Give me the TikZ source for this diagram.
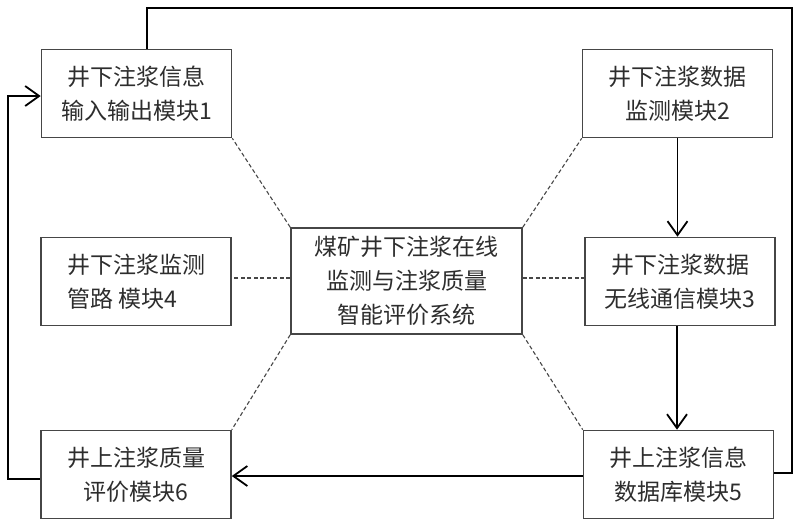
\documentclass[tikz,border=0pt]{standalone}
\usepackage{fontspec}
\setmainfont{Noto Sans CJK SC}
\usetikzlibrary{positioning,arrows.meta,calc}
\definecolor{mdGray}{RGB}{70,70,70}
\definecolor{mdText}{RGB}{45,45,45}

\begin{document}
\begin{tikzpicture}[x=1pt,y=-1pt,
  modbox/.style={draw=mdGray, line width=1.6pt, minimum width=190pt, minimum height=88pt,
    inner sep=0pt, align=center, text=mdText, font=\fontsize{23}{34}\selectfont},
  sysbox/.style={modbox, minimum width=231pt, minimum height=106pt},
  flow/.style={line width=1.8pt, black},
  link/.style={mdGray, line width=1.1pt, dash pattern=on 4pt off 2.5pt},
  >={Straight Barb[length=14pt,width=20pt,line width=1.8pt]}]
  \useasboundingbox (0,0) rectangle (800,528);

  % Modules round the system
  \node[modbox] (m1) at (136.5,93.5) {井下注浆信息\\输入输出模块1};
  \node[modbox] (m2) at (677.5,93.5) {井下注浆数据\\监测模块2};
  \node[modbox, align=left] (m4) at (136,281.5) {井下注浆监测\\管路 模块4};
  \node[modbox] (m3) at (680,281.5) {井下注浆数据\\无线通信模块3};
  \node[modbox] (m6) at (136,474.5) {井上注浆质量\\评价模块6};
  \node[modbox] (m5) at (678.5,474.5) {井上注浆信息\\数据库模块5};
  \node[sysbox] (sys) at (406.5,281) {煤矿井下注浆在线\\监测与注浆质量\\智能评价系统};

  % Dashed links to the system
  \draw[link] (sys.north west) -- (m1.south east);
  \draw[link] (sys.north east) -- (m2.south west);
  \draw[link] (sys.south west) -- (m6.north east);
  \draw[link] (sys.south east) -- (m5.north west);
  \draw[link] ([yshift=3pt]sys.west) -- ([yshift=3pt]sys.west -| m4.east);
  \draw[link] ([yshift=3pt]sys.east) -- ([yshift=3pt]sys.east -| m3.west);

  % Data flow
  \coordinate (lp) at (8,96);
  \coordinate (tp) at (792,8);
  \draw[flow, ->] (m2.south) -- (m2.south |- m3.north);
  \draw[flow, ->] ([xshift=-3pt]m3.south) -- ([xshift=-3pt]m3.south |- m5.north);
  \draw[flow, ->] ([yshift=-1.5pt]m5.west) -- ([yshift=-1.5pt]m5.west -| m6.east);
  \draw[flow, ->] ([yshift=-4.5pt]m6.west) -| (lp) -- (lp -| m1.west);
  \draw[flow] ([xshift=10.5pt]m1.north) |- (tp) |- ([yshift=1.5pt]m5.east);
\end{tikzpicture}
\end{document}
